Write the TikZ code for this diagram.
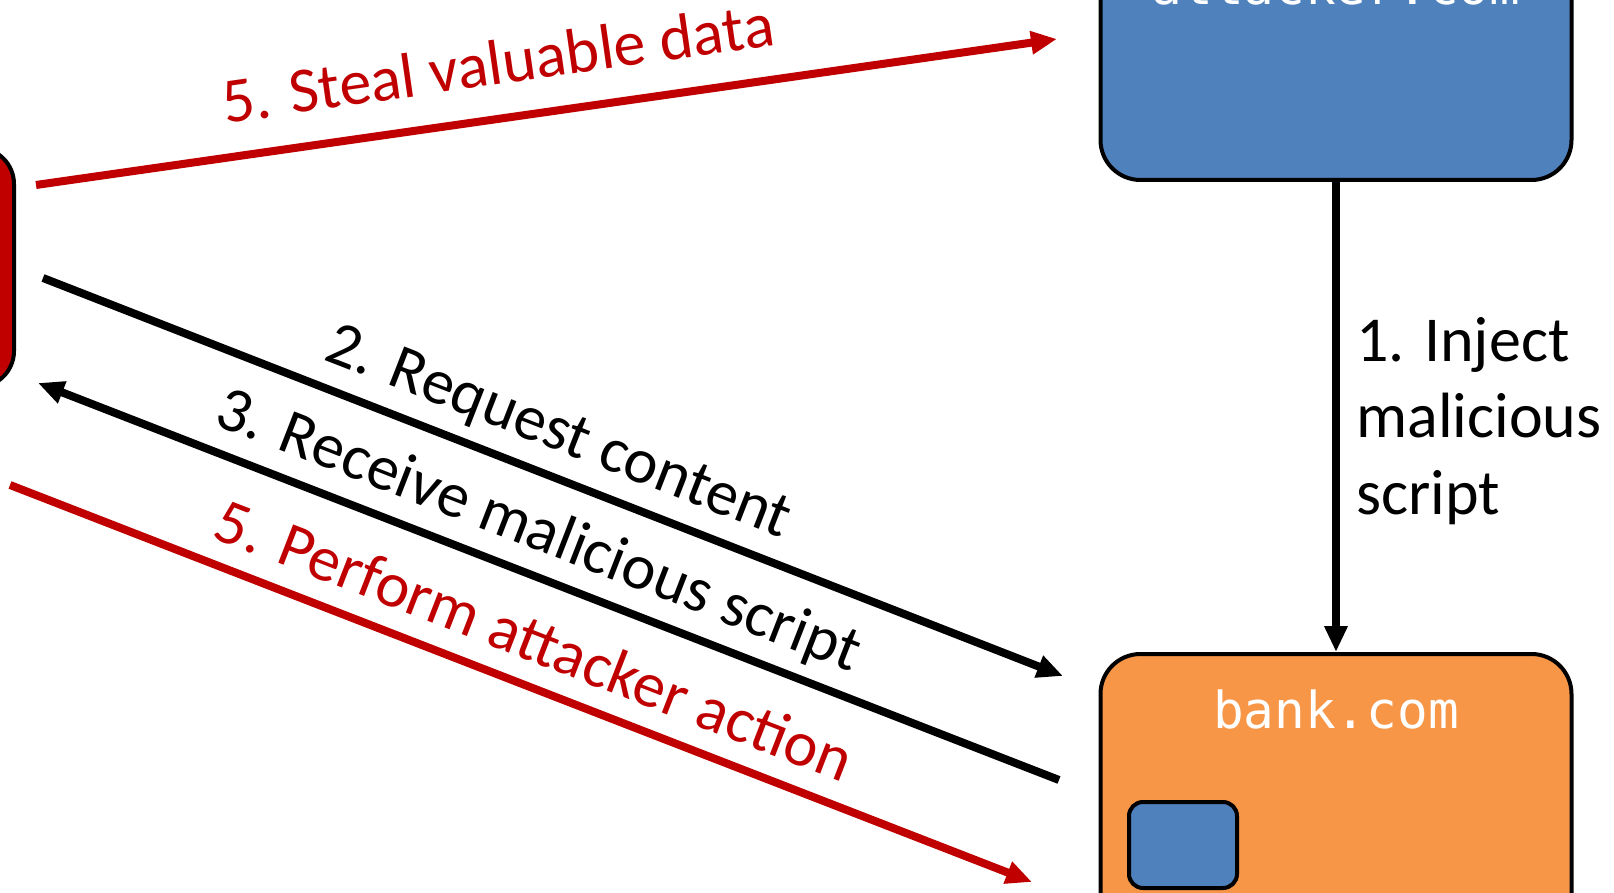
\documentclass[tikz,border=0pt]{standalone}
\usepackage{fontspec}
\setmainfont{Carlito}
\newfontfamily\sitefont{DejaVu Sans Mono}
\usetikzlibrary{arrows.meta}
\definecolor{alertred}{HTML}{C00000}
\definecolor{siteblue}{HTML}{4F81BD}
\definecolor{siteorange}{HTML}{F79646}

\begin{document}
\begin{tikzpicture}[x=0.5pt,y=-0.5pt,
  site/.style={draw=black, line width=2pt, rounded corners=20pt, inner sep=0pt},
  flow/.style={line width=4pt, -{Triangle[length=13pt,width=11pt]}},
  redflow/.style={flow, draw=alertred},
  lbl/.style={font=\fontsize{32}{38.5}\selectfont, sloped, inner sep=0pt, text depth=0pt},
  sitename/.style={font=\sitefont\fontsize{25.5}{30}\selectfont, text=white, anchor=base, inner sep=0pt}
]
\useasboundingbox (0,0) rectangle (1614,893);
\clip (0,0) rectangle (1614,893);

% servers and client
\node[site, fill=siteblue, minimum width=235.5pt, minimum height=200pt, anchor=south] (attacker) at (1336,182) {};
\node[sitename] (attackername) at (1336,5) {attacker.com};
\node[site, fill=siteorange, minimum width=235.5pt, minimum height=200pt, anchor=north] (bank) at (1336,652) {};
\node[sitename] (bankname) at (1336,728) {bank.com};
\node[site, fill=siteblue, rounded corners=7pt, minimum width=54pt, minimum height=43pt] (widget) at (1183,845) {};
\node[site, fill=alertred, rounded corners=18pt, minimum width=207pt, minimum height=119.5pt] (client) at (-193,267.5) {};

% free ends of the request arrows
\coordinate (stealA) at (36,185);
\coordinate (stealB) at (1057,39);
\coordinate (reqA) at (43,278);
\coordinate (reqB) at (1063,676);
\coordinate (recvA) at (1059,780);
\coordinate (recvB) at (38,383);
\coordinate (actA) at (10,485);
\coordinate (actB) at (1032,882);

\draw[redflow] (stealA) -- node[lbl, pos=0.46, above=15pt, text=alertred] {5. Steal valuable data} (stealB);
\draw[flow] (reqA) -- node[lbl, pos=0.49, above=11pt] {2. Request content} (reqB);
\draw[flow] (recvA) -- node[lbl, pos=0.525, above=10.5pt] {3. Receive malicious script} (recvB);
\draw[redflow] (actA) -- node[lbl, pos=0.497, above=10pt, text=alertred] {5. Perform attacker action} (actB);

\draw[flow] (attacker.south) -- (bank.north);
\node[anchor=base west, inner sep=0pt, align=left, font=\fontsize{32}{38.5}\selectfont] (injectlbl) at (1356,515) {1. Inject\\malicious\\script};
\end{tikzpicture}
\end{document}
